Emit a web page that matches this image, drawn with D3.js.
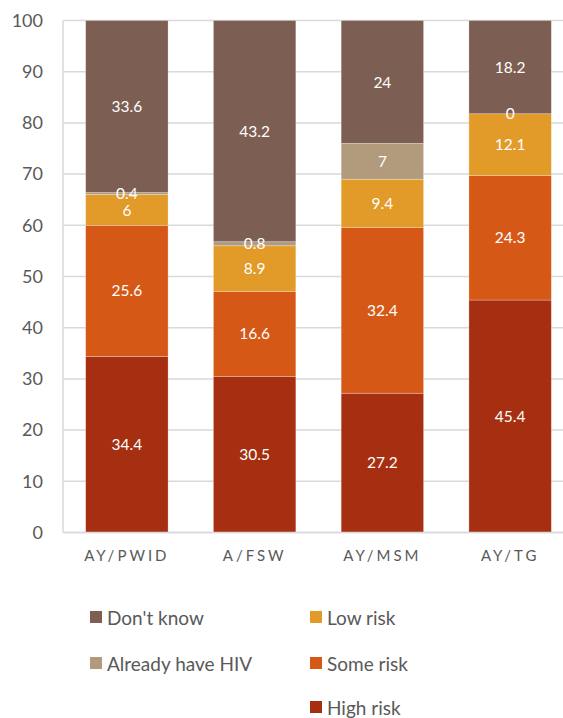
<!DOCTYPE html>
<html>
<head>
<meta charset="utf-8">
<script src="https://cdn.jsdelivr.net/npm/d3@7"></script>
<style>
  body { margin: 0; background: #fff; }
  svg { display: block; }
</style>
</head>
<body>
<svg id="chart" width="563" height="718"></svg>
<script>
const groups = ["AY/PWID", "A/FSW", "AY/MSM", "AY/TG"];
const seriesNames = ["High risk", "Some risk", "Low risk", "Already have HIV", "Don't know"];
const highRisk = [34.4, 30.5, 27.2, 45.4];
const someRisk = [25.6, 16.6, 32.4, 24.3];
const lowRisk = [6, 8.9, 9.4, 12.1];
const alreadyHIV = [0.4, 0.8, 7, 0];
const dontKnow = [33.6, 43.2, 24, 18.2];
const yTicks = [0, 10, 20, 30, 40, 50, 60, 70, 80, 90, 100];

const colors = {
  "High risk": "#a52f10",
  "Some risk": "#d55817",
  "Low risk": "#e29a28",
  "Already have HIV": "#b29b7c",
  "Don't know": "#7d5e52"
};

// build rows for the stack layout
const rows = groups.map((g, i) => ({
  group: g,
  "High risk": highRisk[i],
  "Some risk": someRisk[i],
  "Low risk": lowRisk[i],
  "Already have HIV": alreadyHIV[i],
  "Don't know": dontKnow[i]
}));

const font = "Lato, 'Open Sans', sans-serif";
const textColor = "#595959";
const gridColor = "#d9d9d9";

const svg = d3.select("#chart");

const x = d3.scaleBand()
    .domain(groups)
    .range([63, 574])
    .paddingInner(0.355)
    .paddingOuter(0.1775);

const y = d3.scaleLinear()
    .domain([0, 100])
    .range([532.5, 20.5]);

// gridlines
svg.append("g")
  .selectAll("line")
  .data(yTicks)
  .join("line")
    .attr("x1", 63)
    .attr("x2", 563)
    .attr("y1", d => y(d))
    .attr("y2", d => y(d))
    .attr("stroke", gridColor)
    .attr("stroke-width", 1.5);

// left axis line
svg.append("line")
    .attr("x1", 63).attr("x2", 63)
    .attr("y1", y(100)).attr("y2", y(0))
    .attr("stroke", gridColor)
    .attr("stroke-width", 1.5);

// y tick labels
const yAxis = svg.append("g")
    .attr("transform", "translate(63,0)")
    .call(d3.axisLeft(y).tickValues(yTicks).tickSize(0).tickPadding(20));
yAxis.select(".domain").remove();
yAxis.selectAll("text")
    .attr("fill", textColor)
    .style("font-family", font)
    .style("font-size", "18px");

// stacked bars
const stack = d3.stack().keys(seriesNames);
const series = stack(rows);

const layer = svg.append("g")
  .selectAll("g")
  .data(series)
  .join("g")
    .attr("fill", d => colors[d.key]);

layer.selectAll("rect")
  .data(d => d)
  .join("rect")
    .attr("x", d => x(d.data.group))
    .attr("width", x.bandwidth())
    .attr("y", d => y(d[1]))
    .attr("height", d => y(d[0]) - y(d[1]))
    .attr("stroke", "rgba(255,255,255,0.35)")
    .attr("stroke-width", 0.75);

// data labels
const labels = svg.append("g")
  .selectAll("g")
  .data(series)
  .join("g");

labels.selectAll("text")
  .data(d => d)
  .join("text")
    .attr("x", d => x(d.data.group) + x.bandwidth() / 2)
    .attr("y", d => y((d[0] + d[1]) / 2))
    .attr("dy", "0.36em")
    .attr("text-anchor", "middle")
    .attr("fill", "#ffffff")
    .style("font-family", font)
    .style("font-size", "15.5px")
    .text(d => d3.format("")(+(d[1] - d[0]).toFixed(1)));

// x labels
const xAxis = svg.append("g")
    .attr("transform", `translate(0,${y(0)})`)
    .call(d3.axisBottom(x).tickSize(0).tickPadding(18));
xAxis.select(".domain")
    .attr("stroke", gridColor)
    .attr("stroke-width", 1.5)
    .attr("d", "M63,0H563");
xAxis.selectAll("text")
    .attr("fill", textColor)
    .style("font-family", font)
    .style("font-size", "15px")
    .style("letter-spacing", "3px");

// legend
const legendItems = [
  { key: "Don't know", col: 0, row: 0 },
  { key: "Already have HIV", col: 0, row: 1 },
  { key: "Low risk", col: 1, row: 0 },
  { key: "Some risk", col: 1, row: 1 },
  { key: "High risk", col: 1, row: 2 }
];
const legendX = [90, 310];
const legendY = [617, 663, 707];

const legend = svg.append("g")
  .selectAll("g")
  .data(legendItems)
  .join("g")
    .attr("transform", d => `translate(${legendX[d.col]},${legendY[d.row]})`);

legend.append("rect")
    .attr("x", 0)
    .attr("y", -6)
    .attr("width", 12)
    .attr("height", 12)
    .attr("fill", d => colors[d.key]);

legend.append("text")
    .attr("x", 17)
    .attr("y", 1)
    .attr("dy", "0.36em")
    .attr("fill", textColor)
    .style("font-family", font)
    .style("font-size", "19px")
    .text(d => d.key);
</script>
</body>
</html>
